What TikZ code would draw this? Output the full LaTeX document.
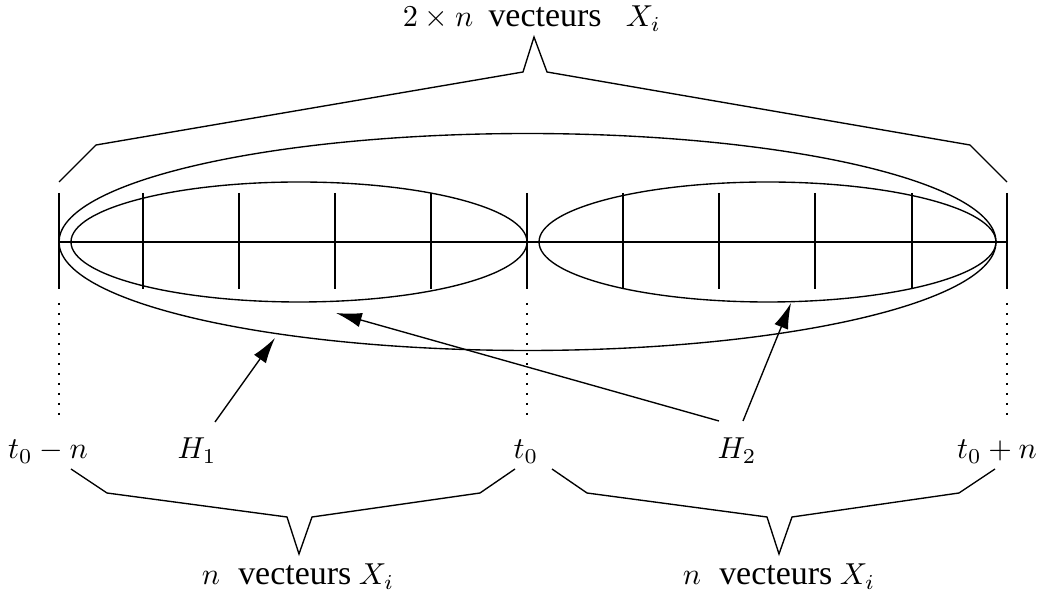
\documentclass[tikz,border=0pt]{standalone}
\usepackage{fontspec}
\setmainfont{Liberation Serif}
\usetikzlibrary{arrows.meta,shapes.geometric}
\newcommand\vtx{{\fontsize{11.2}{13}\selectfont vecteurs}}
\begin{document}
\begin{tikzpicture}[x=0.33pt,y=-0.33pt,
  ln/.style={line width=0.45pt},
  arr/.style={line width=0.45pt,-{Latex[length=8.5pt,width=4.8pt]}},
  dots/.style={line width=0.5pt,dash pattern=on 0.8pt off 2.5pt},
  lab/.style={inner sep=0pt,anchor=base},
  ell/.style={ellipse,draw,line width=0.45pt,inner sep=0pt,outer sep=0pt}]
\useasboundingbox (0,0) rectangle (1040,599);
% ellipses
\node[ell,minimum width=309.2pt,minimum height=71.6pt] (Ebig) at (527.5,242) {};
\node[ell,minimum width=150.5pt,minimum height=39.6pt] (Eleft) at (299,242) {};
\node[ell,minimum width=150.8pt,minimum height=39.6pt] (Eright) at (767.5,242) {};
% axis
\coordinate (A0) at (59,242);
\coordinate (A1) at (1007,242);
\draw[ln] (A0) -- (A1);
\foreach \x in {59,143,239,335,431,527,623,719,815,912,1007}
  \draw[ln] (\x,193) -- (\x,289);
% dotted guides
\foreach \x in {59,527,1007}
  \draw[dots] (\x,303) -- (\x,422);
% labels
\node[lab] (tl) at (48,459) {$t_0-n$};
\node[lab] (h1) at (197,459) {$H_1$};
\node[lab] (t0) at (526,459) {$t_0$};
\node[lab] (h2) at (737,459) {$H_2$};
\node[lab] (tr) at (997,459) {$t_0+n$};
\node[lab] (top) at (532,27) {$2\times n$\hspace{5pt}\vtx\hspace{8pt}$X_i$};
\node[lab] (bl) at (298,585) {$n$\hspace{6pt}\vtx\ $X_i$};
\node[lab] (br) at (779,585) {$n$\hspace{6pt}\vtx\ $X_i$};
% braces
\draw[ln] (59,182) -- (96,145) -- (523,72) -- (534,37) -- (547,72) -- (970,145) -- (1007,182);
\draw[ln] (71,469) -- (107,493) -- (287,517) -- (299,554) -- (312,517) -- (480,493) -- (515,469);
\draw[ln] (552,469) -- (587,493) -- (767,517) -- (779,554) -- (792,517) -- (959,493) -- (995,469);
% arrows
\coordinate (h1s) at (215,422); \coordinate (h1e) at (275,338);
\coordinate (h2s) at (719,421); \coordinate (h2e) at (336,313);
\coordinate (h3s) at (743,421); \coordinate (h3e) at (791,303);
\draw[arr] (h1s) -- (h1e);
\draw[arr] (h2s) -- (h2e);
\draw[arr] (h3s) -- (h3e);
\end{tikzpicture}
\end{document}
